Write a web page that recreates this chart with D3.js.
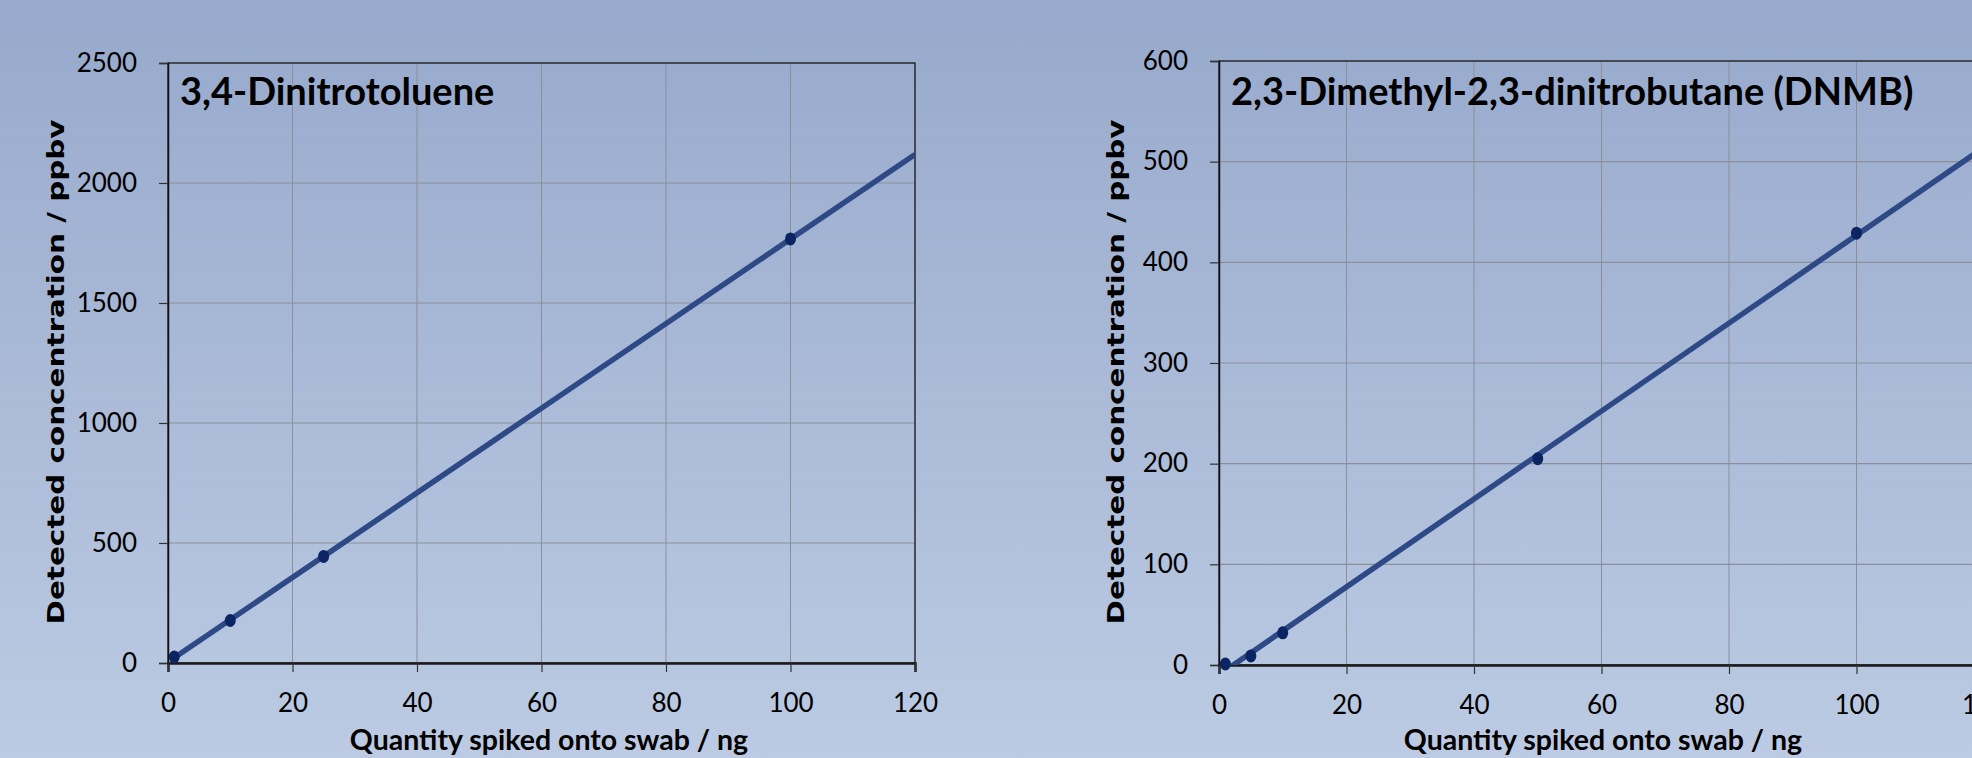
<!DOCTYPE html>
<html>
<head>
<meta charset="utf-8">
<script src="https://cdn.jsdelivr.net/npm/d3@7"></script>
<style>
    body { margin: 0; overflow: hidden; }
    text { font-family: Lato, "Open Sans", sans-serif; fill: #000; }
</style>
</head>
<body>
<div id="container"></div>
<script>
const width = 1972;
const height = 758;

// 3,4-Dinitrotoluene
const dntQty = [1, 10, 25, 100];
const dntConc = [25, 177, 444, 1767];
const dntTicksY = [0, 500, 1000, 1500, 2000, 2500];

// DNMB
const dnmbQty = [1, 5, 10, 50, 100];
const dnmbConc = [1, 9, 32, 205, 429];
const dnmbTicksY = [0, 100, 200, 300, 400, 500, 600];

const ticksX = [0, 20, 40, 60, 80, 100, 120];
const xLabel = "Quantity spiked onto swab / ng";
const yLabel = "Detected concentration / ppbv";

const lineColor = "#2e4a86";
const markerColor = "#0b2462";
const gridColor = "#8a8f99";

const svg = d3.select("#container")
    .append("svg")
    .attr("width", width)
    .attr("height", height);

const grad = svg.append("defs")
    .append("linearGradient")
    .attr("id", "bg")
    .attr("x1", 0).attr("y1", 0)
    .attr("x2", 0).attr("y2", 1);
grad.append("stop").attr("offset", "0%").attr("stop-color", "#97a9cc");
grad.append("stop").attr("offset", "100%").attr("stop-color", "#bccbe3");

svg.append("rect")
    .attr("width", width)
    .attr("height", height)
    .attr("fill", "url(#bg)");

// least squares line, like the excel trendline
const fit = (xs, ys) => {
    const mx = d3.mean(xs);
    const my = d3.mean(ys);
    let sxy = 0;
    let sxx = 0;
    xs.forEach((x, i) => {
        sxy += (x - mx) * (ys[i] - my);
        sxx += (x - mx) * (x - mx);
    });
    const slope = sxy / sxx;
    return { slope: slope, icpt: my - slope * mx };
};

const drawChart = (cfg) => {
    const x = d3.scaleLinear().domain([0, 120]).range([cfg.left, cfg.right]);
    const y = d3.scaleLinear().domain([0, cfg.ymax]).range([cfg.bottom, cfg.top]);
    const g = svg.append("g");

    g.append("clipPath")
        .attr("id", cfg.id)
        .append("rect")
        .attr("x", cfg.left)
        .attr("y", cfg.top)
        .attr("width", cfg.right - cfg.left)
        .attr("height", cfg.bottom - cfg.top);

    // grid
    g.append("g")
        .selectAll("line")
        .data(cfg.ticksY.slice(1))
        .enter()
        .append("line")
        .attr("x1", cfg.left)
        .attr("x2", cfg.right)
        .attr("y1", (d) => y(d))
        .attr("y2", (d) => y(d))
        .style("stroke", gridColor)
        .style("stroke-width", 1.2);
    g.append("g")
        .selectAll("line")
        .data(ticksX.slice(1))
        .enter()
        .append("line")
        .attr("x1", (d) => x(d))
        .attr("x2", (d) => x(d))
        .attr("y1", cfg.top)
        .attr("y2", cfg.bottom)
        .style("stroke", gridColor)
        .style("stroke-width", 1);

    // border
    g.append("rect")
        .attr("x", cfg.left)
        .attr("y", cfg.top)
        .attr("width", cfg.right - cfg.left)
        .attr("height", cfg.bottom - cfg.top)
        .attr("fill", "none")
        .style("stroke", "#111")
        .style("stroke-width", 1.2);

    // axes
    const yAxis = g.append("g")
        .attr("transform", `translate(${cfg.left},0)`)
        .call(d3.axisLeft(y).tickValues(cfg.ticksY).tickFormat(d3.format("d")).tickSize(9).tickPadding(22));
    const xAxis = g.append("g")
        .attr("transform", `translate(0,${cfg.bottom})`)
        .call(d3.axisBottom(x).tickValues(ticksX).tickFormat(d3.format("d")).tickSize(9).tickPadding(22));
    [yAxis, xAxis].forEach((a) => {
        a.select(".domain").style("stroke", "#111").style("stroke-width", 1.5);
        a.selectAll(".tick line").style("stroke", "#333").style("stroke-width", 1.2);
        a.selectAll(".tick text").style("font-size", "26px").style("fill", "#000");
    });
    xAxis.select(".domain").style("stroke-width", 2.5).style("stroke", "#1a1a1a");

    // trendline
    const f = fit(cfg.qty, cfg.conc);
    const x0 = d3.min(cfg.qty);
    g.append("line")
        .attr("clip-path", `url(#${cfg.id})`)
        .attr("x1", x(x0))
        .attr("y1", y(f.slope * x0 + f.icpt))
        .attr("x2", x(120))
        .attr("y2", y(f.slope * 120 + f.icpt))
        .style("stroke", lineColor)
        .style("stroke-width", 5.5);

    // markers
    g.append("g")
        .selectAll("ellipse")
        .data(cfg.qty)
        .enter()
        .append("ellipse")
        .attr("cx", (d) => x(d))
        .attr("cy", (d, i) => y(cfg.conc[i]))
        .attr("rx", 5.5)
        .attr("ry", 6.5)
        .style("fill", markerColor);

    g.append("text")
        .attr("x", cfg.left + 12)
        .attr("y", 105)
        .style("font-size", "38px")
        .style("font-weight", "bold")
        .text(cfg.title);

    g.append("text")
        .attr("x", cfg.xlabX)
        .attr("y", 750)
        .attr("text-anchor", "middle")
        .style("font-size", "28.5px")
        .style("font-weight", "bold")
        .text(xLabel);

    g.append("text")
        .attr("transform", `translate(${cfg.ylabX},372) rotate(-90)`)
        .attr("text-anchor", "middle")
        .attr("dy", "0.35em")
        .attr("textLength", 505)
        .attr("lengthAdjust", "spacingAndGlyphs")
        .style("font-family", "'DejaVu Sans', sans-serif")
        .style("font-size", "23px")
        .style("font-weight", "bold")
        .text(yLabel);
};

drawChart({
    id: "clipA",
    left: 168, right: 915, top: 63, bottom: 663,
    ymax: 2500, ticksY: dntTicksY,
    qty: dntQty, conc: dntConc,
    title: "3,4-Dinitrotoluene",
    xlabX: 549, ylabX: 56,
});

drawChart({
    id: "clipB",
    left: 1219, right: 1984, top: 61, bottom: 665,
    ymax: 600, ticksY: dnmbTicksY,
    qty: dnmbQty, conc: dnmbConc,
    title: "2,3-Dimethyl-2,3-dinitrobutane (DNMB)",
    xlabX: 1603, ylabX: 1116,
});
</script>
</body>
</html>
